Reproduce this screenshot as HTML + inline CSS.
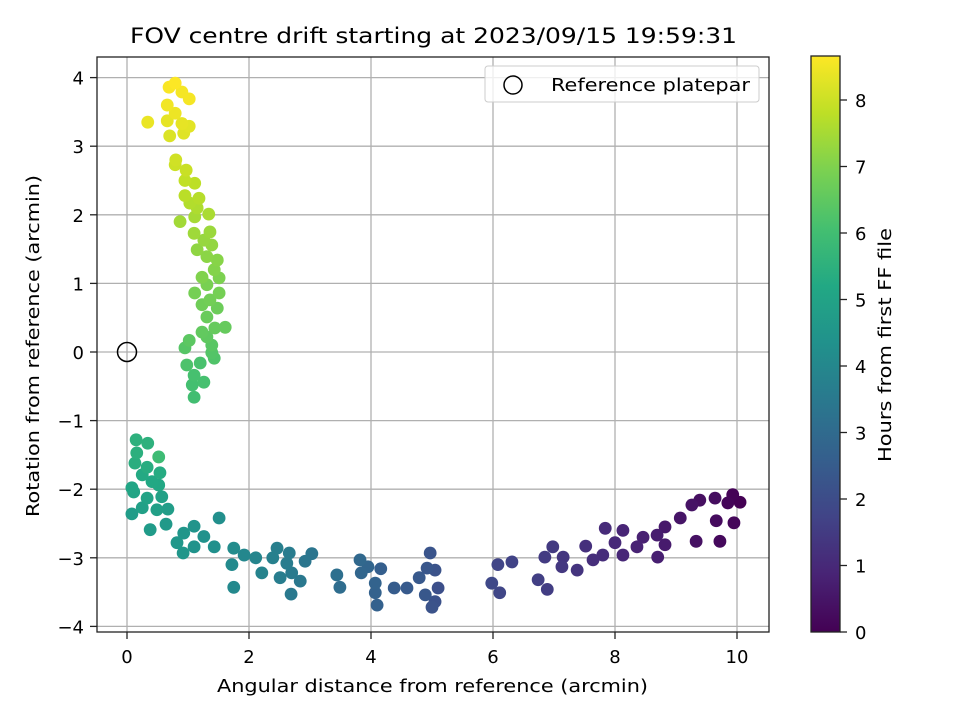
<!DOCTYPE html>
<html><head><meta charset="utf-8"><style>
body{margin:0;background:#fff;}
svg text{font-family:"DejaVu Sans","Liberation Sans",sans-serif;fill:#000;}
</style></head><body>
<svg id="chart" width="960" height="720" viewBox="0 0 960 720" xmlns="http://www.w3.org/2000/svg">
<defs>
<linearGradient id="vir" x1="0" y1="1" x2="0" y2="0">
<stop offset="0" stop-color="#440154"/><stop offset="0.1" stop-color="#482475"/><stop offset="0.2" stop-color="#414487"/><stop offset="0.3" stop-color="#355f8d"/><stop offset="0.4" stop-color="#2a788e"/><stop offset="0.5" stop-color="#21918c"/><stop offset="0.6" stop-color="#22a884"/><stop offset="0.7" stop-color="#44bf70"/><stop offset="0.8" stop-color="#7ad151"/><stop offset="0.9" stop-color="#bddf26"/><stop offset="1" stop-color="#fde725"/>
</linearGradient>
<clipPath id="plotclip"><rect x="97" y="57" width="672" height="575"/></clipPath>
</defs>
<g id="grid"></g>
<g id="points" clip-path="url(#plotclip)"></g>
<rect x="97" y="57" width="672" height="575" fill="none" stroke="#222" stroke-width="1.3"/>
<g id="xticks"></g>
<g id="yticks"></g>
<text x="130" y="43" font-size="21" textLength="607" lengthAdjust="spacingAndGlyphs">FOV centre drift starting at 2023/09/15 19:59:31</text>
<text x="217" y="692" font-size="18" textLength="431" lengthAdjust="spacingAndGlyphs">Angular distance from reference (arcmin)</text>
<text x="39" y="346" font-size="18" text-anchor="middle" textLength="342" lengthAdjust="spacingAndGlyphs" transform="rotate(-90 39 346)">Rotation from reference (arcmin)</text>
<g>
<rect x="485" y="66" width="274" height="36" rx="3" fill="#fff" fill-opacity="0.8" stroke="#ccc"/>
<circle cx="513" cy="85" r="9" fill="none" stroke="#000" stroke-width="1.5"/>
<text x="551" y="91" font-size="18" textLength="199" lengthAdjust="spacingAndGlyphs">Reference platepar</text>
</g>
<rect x="811" y="56" width="29" height="576" fill="url(#vir)" stroke="#222" stroke-width="1.3"/>
<g id="cticks"></g>
<text x="891" y="345" font-size="18" text-anchor="middle" textLength="234" lengthAdjust="spacingAndGlyphs" transform="rotate(-90 891 345)">Hours from first FF file</text>
</svg>
<script>
const xs=[10.05,9.93,9.85,9.95,9.72,9.66,9.64,9.39,9.33,9.26,9.07,8.82,8.82,8.69,8.7,8.46,8.36,8.13,8.13,8.0,7.84,7.8,7.64,7.52,7.38,7.15,7.13,6.98,6.85,6.89,6.74,6.31,6.08,6.11,5.98,5.1,5.05,5.05,5.0,4.97,4.92,4.89,4.79,4.59,4.38,4.16,4.1,4.07,4.07,3.95,3.84,3.82,3.49,3.44,3.03,2.92,2.84,2.69,2.7,2.62,2.66,2.51,2.46,2.39,2.21,2.11,1.92,1.75,1.72,1.75,1.51,1.43,1.26,1.1,1.1,0.93,0.92,0.82,0.64,0.38,0.08,0.67,0.49,0.25,0.57,0.33,0.11,0.08,0.52,0.41,0.25,0.54,0.33,0.13,0.16,0.52,0.34,0.15,
1.1,1.07,1.26,1.1,1.2,0.98,1.43,1.39,0.95,1.39,1.02,1.31,1.23,1.44,1.61,1.31,1.48,1.23,1.36,1.11,1.51,1.31,1.51,1.23,1.43,1.48,1.31,1.15,1.39,1.26,1.36,1.1,0.87,1.11,1.34,1.15,1.03,1.18,0.95,1.11,0.95,0.97,0.79,0.8,0.7,0.93,1.02,0.9,0.66,0.34,0.79,0.66,1.02,0.9,0.69,0.79];
const ys=[-2.19,-2.08,-2.2,-2.49,-2.76,-2.46,-2.13,-2.16,-2.76,-2.23,-2.42,-2.55,-2.81,-2.67,-2.99,-2.7,-2.84,-2.6,-2.96,-2.78,-2.57,-2.96,-3.03,-2.83,-3.18,-2.99,-3.13,-2.84,-2.99,-3.46,-3.32,-3.06,-3.1,-3.51,-3.37,-3.44,-3.64,-3.18,-3.72,-2.93,-3.15,-3.54,-3.29,-3.44,-3.44,-3.16,-3.69,-3.51,-3.37,-3.13,-3.22,-3.03,-3.43,-3.25,-2.94,-3.05,-3.34,-3.53,-3.22,-3.08,-2.93,-3.29,-2.86,-3.0,-3.22,-3.0,-2.96,-3.43,-3.1,-2.86,-2.42,-2.84,-2.69,-2.84,-2.54,-2.64,-2.93,-2.78,-2.51,-2.59,-2.36,-2.29,-2.3,-2.27,-2.11,-2.13,-2.04,-1.98,-1.94,-1.89,-1.79,-1.76,-1.68,-1.62,-1.47,-1.53,-1.33,-1.28,
-0.66,-0.48,-0.44,-0.34,-0.16,-0.19,-0.09,-0.01,0.06,0.1,0.17,0.22,0.29,0.35,0.36,0.51,0.64,0.69,0.76,0.86,0.86,0.98,1.08,1.09,1.2,1.34,1.39,1.49,1.56,1.63,1.75,1.73,1.9,1.97,2.01,2.1,2.17,2.24,2.28,2.46,2.5,2.65,2.73,2.8,3.15,3.19,3.29,3.33,3.37,3.35,3.48,3.6,3.69,3.79,3.86,3.92];
const hours=[0.0,0.05,0.1,0.15,0.2,0.25,0.3,0.35,0.4,0.45,0.5,0.6,0.65,0.7,0.75,0.8,0.85,0.9,0.95,1.0,1.05,1.1,1.15,1.2,1.3,1.35,1.4,1.45,1.5,1.55,1.6,1.7,1.75,1.8,1.85,2.1,2.15,2.2,2.2,2.25,2.3,2.35,2.4,2.45,2.5,2.6,2.65,2.7,2.75,2.8,2.85,2.9,3.1,3.15,3.35,3.4,3.45,3.5,3.55,3.6,3.6,3.65,3.7,3.75,3.85,3.9,4.0,4.05,4.1,4.15,4.25,4.3,4.35,4.4,4.45,4.5,4.5,4.55,4.65,4.7,4.75,4.8,4.85,4.9,4.95,5.0,5.05,5.1,5.15,5.2,5.25,5.3,5.35,5.4,5.45,5.9,5.5,5.5,
6.0,6.05,6.1,6.1,6.15,6.2,6.25,6.3,6.35,6.4,6.45,6.5,6.55,6.6,6.6,6.65,6.7,6.75,6.8,6.85,6.85,6.9,6.95,7.0,7.05,7.1,7.15,7.2,7.25,7.3,7.35,7.4,7.45,7.5,7.55,7.6,7.65,7.7,7.75,7.8,7.85,7.95,8.0,8.05,8.2,8.25,8.3,8.35,8.35,8.4,8.45,8.5,8.55,8.55,8.6,8.65];
const xTicks=[0,2,4,6,8,10];
const yTicks=[-4,-3,-2,-1,0,1,2,3,4];
const cTicks=[0,1,2,3,4,5,6,7,8];
const refPoint=[0,0];
const NS="http://www.w3.org/2000/svg";
const X=v=>127+v*61, Y=v=>352-v*68.6, CB=h=>632-h*66.5, HMAX=8.66;
const stops=[[0,[68,1,84]],[0.1,[72,36,117]],[0.2,[65,68,135]],[0.3,[53,95,141]],[0.4,[42,120,142]],[0.5,[33,145,140]],[0.6,[34,168,132]],[0.7,[68,191,112]],[0.8,[122,209,81]],[0.9,[189,223,38]],[1,[253,231,37]]];
function vir(t){t=Math.max(0,Math.min(1,t));for(let i=1;i<stops.length;i++){if(t<=stops[i][0]){const a=stops[i-1],b=stops[i],f=(t-a[0])/(b[0]-a[0]);return 'rgb('+a[1].map((c,k)=>Math.round(c+(b[1][k]-c)*f)).join(',')+')';}}return 'rgb(253,231,37)';}
function mk(tag,attrs,parent){const e=document.createElementNS(NS,tag);for(const k in attrs)e.setAttribute(k,attrs[k]);parent.appendChild(e);return e;}
const grid=document.getElementById('grid'),pts=document.getElementById('points'),xt=document.getElementById('xticks'),yt=document.getElementById('yticks'),ct=document.getElementById('cticks');
xTicks.forEach(v=>{
 const g=mk('line',{x1:X(v),x2:X(v),y1:57,y2:632,stroke:'#b0b0b0','stroke-width':1.3},grid);
 
 
 const t=mk('line',{x1:X(v),x2:X(v),y1:632,y2:639,stroke:'#222','stroke-width':1.3},xt);
 
 
 const l=mk('text',{x:X(v),y:663,'font-size':18,'text-anchor':'middle'},xt);l.textContent=v;
 
 
});
yTicks.forEach(v=>{
 const g=mk('line',{x1:97,x2:769,y1:Y(v),y2:Y(v),stroke:'#b0b0b0','stroke-width':1.3},grid);
 
 
 const t=mk('line',{x1:90,x2:97,y1:Y(v),y2:Y(v),stroke:'#222','stroke-width':1.3},yt);
 
 
 const l=mk('text',{x:84,y:Y(v)+7,'font-size':18,'text-anchor':'end'},yt);l.textContent=v<0?'\u2212'+(-v):v;
 
 
});
cTicks.forEach(v=>{
 const t=mk('line',{x1:840,x2:847,y1:CB(v),y2:CB(v),stroke:'#222','stroke-width':1.3},ct);
 
 
 const l=mk('text',{x:855,y:CB(v)+7,'font-size':18},ct);l.textContent=v;
 
 
});
xs.forEach((v,i)=>{
 const c=mk('circle',{cx:X(v),cy:Y(ys[i]),r:6.4,fill:vir(hours[i]/HMAX)},pts);
 
 
});
const r=mk('circle',{cx:X(refPoint[0]),cy:Y(refPoint[1]),r:9.5,fill:'none',stroke:'#000','stroke-width':1.5},pts);


</script>
</body></html>
